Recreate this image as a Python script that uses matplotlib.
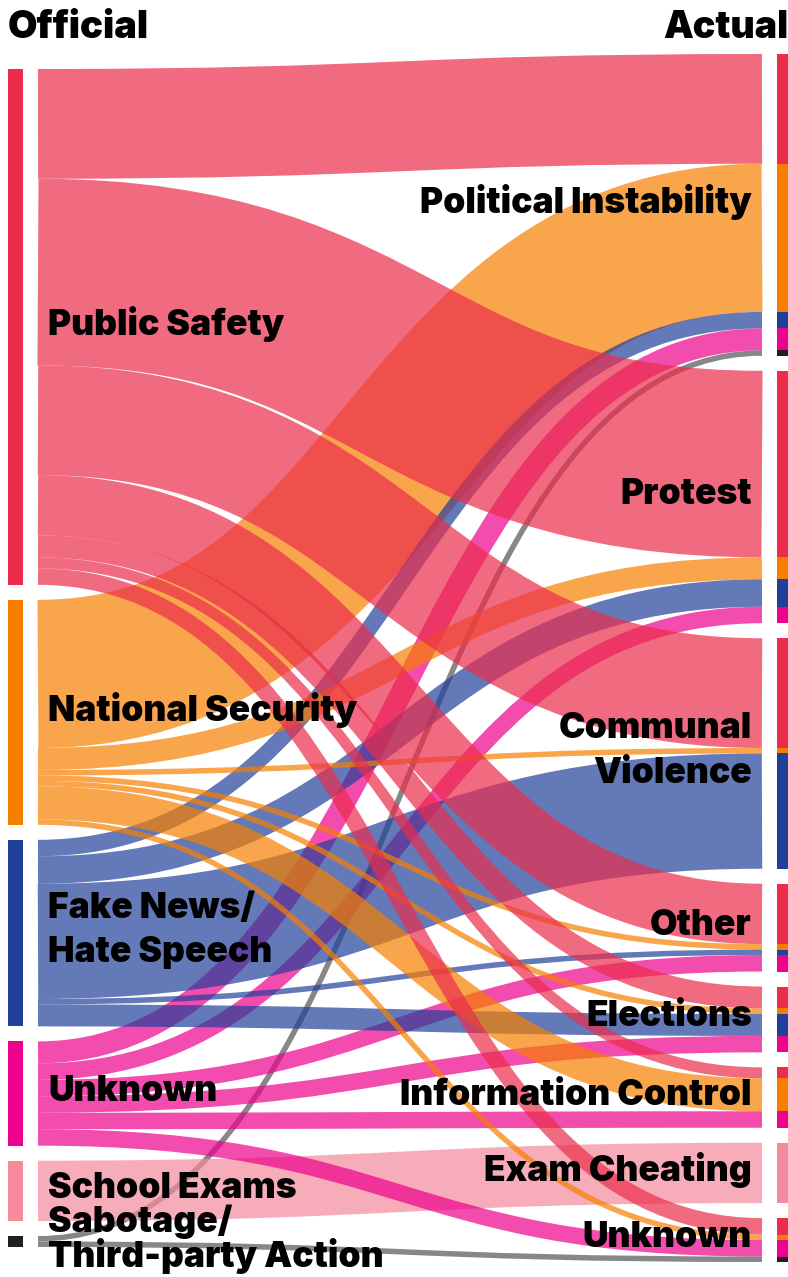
import matplotlib
matplotlib.use("Agg")
import matplotlib.pyplot as plt
from matplotlib import font_manager
from matplotlib.path import Path
from matplotlib.patches import PathPatch, Rectangle

# official reason (left) -> actual reason (right), counts of shutdowns
sources = ["Public Safety", "National Security", "Fake News/\nHate Speech",
           "Unknown", "School Exams", "Sabotage/\nThird-party Action"]
targets = ["Political Instability", "Protest", "Communal\nViolence", "Other",
           "Elections", "Information Control", "Exam Cheating", "Unknown"]

source_colors = ["#EC2C4B", "#F77F00", "#21409A", "#EC008C", "#F58B9C", "#231F20"]
link_colors = ["#EC2C4B", "#F77F00", "#21409A", "#EC008C", "#F58B9C", "#555555"]

link_source = [0, 0, 0, 0, 0, 0, 0,
               1, 1, 1, 1, 1, 1, 1,
               2, 2, 2, 2, 2,
               3, 3, 3, 3, 3, 3,
               4,
               5, 5]
link_target = [0, 1, 2, 3, 4, 5, 7,
               0, 1, 2, 3, 4, 5, 7,
               0, 1, 2, 3, 4,
               0, 1, 3, 4, 5, 7,
               6,
               0, 7]
link_value = [20, 34, 20, 11, 4, 2, 3,
              27, 4, 1, 1, 1, 6, 1,
              3, 5, 21, 1, 4,
              4, 3, 3, 3, 3, 3,
              11,
              1, 1]

W, H, DPI = 788, 1277, 100
top, bottom, pad = 54, 1262, 15
x_left_node, x_right_node, node_w = 8, 777, 15
x0, x1 = 38, 762


def heavy_font():
    """가장 두꺼운 글꼴 굵기를 고른다"""
    for fam in ["Inter", "Roboto", "Lato", "Open Sans"]:
        ws = [f.weight for f in font_manager.fontManager.ttflist if f.name == fam]
        ws = [w if isinstance(w, int) else 400 for w in ws]
        if ws and max(ws) >= 800:
            return fam, max(ws)
    return "Inter", 700


fam, weight = heavy_font()
font = [fam, "DejaVu Sans"]

total = sum(link_value)
unit = (bottom - top - (len(targets) - 1) * pad) / total

src_tot = [sum(v for s, v in zip(link_source, link_value) if s == i) for i in range(len(sources))]
tgt_tot = [sum(v for t, v in zip(link_target, link_value) if t == i) for i in range(len(targets))]

# node positions
tgt_y = []
y = top
for t in tgt_tot:
    tgt_y.append(y)
    y += t * unit + pad
left_h = total * unit + (len(sources) - 1) * pad
src_y = []
y = top + (bottom - top - left_h) / 2
for s in src_tot:
    src_y.append(y)
    y += s * unit + pad

# link offsets: at source sorted by target, at target sorted by source
n = len(link_value)
ys = [0] * n
yt = [0] * n
for i in range(len(sources)):
    off = src_y[i]
    for k in sorted([k for k in range(n) if link_source[k] == i], key=lambda k: link_target[k]):
        w = link_value[k] * unit
        ys[k] = off + w / 2
        off += w
for j in range(len(targets)):
    off = tgt_y[j]
    for k in sorted([k for k in range(n) if link_target[k] == j], key=lambda k: link_source[k]):
        w = link_value[k] * unit
        yt[k] = off + w / 2
        off += w

fig = plt.figure(figsize=(W / DPI, H / DPI), dpi=DPI)
ax = fig.add_axes([0, 0, 1, 1])
ax.set_xlim(0, W)
ax.set_ylim(H, 0)
ax.axis("off")

xm = (x0 + x1) / 2
order = sorted(range(n), key=lambda k: (link_target[k], link_source[k]))
for k in order:
    path = Path([(x0, ys[k]), (xm, ys[k]), (xm, yt[k]), (x1, yt[k])],
                [Path.MOVETO, Path.CURVE4, Path.CURVE4, Path.CURVE4])
    ax.add_patch(PathPatch(path, fill=False, edgecolor=link_colors[link_source[k]],
                           alpha=0.7, lw=link_value[k] * unit * 72 / DPI, capstyle="butt"))

# left node bars
for i in range(len(sources)):
    ax.add_patch(Rectangle((x_left_node, src_y[i]), node_w, src_tot[i] * unit,
                           color=source_colors[i], lw=0))

# right node bars are split by source colour
for k in range(n):
    w = link_value[k] * unit
    ax.add_patch(Rectangle((x_right_node, yt[k] - w / 2), node_w, w,
                           color=source_colors[link_source[k]], lw=0))

fs = 25.5 if weight >= 800 else 26.5
lift = 2.5  # 글자 세로 위치 보정
spacing = {2: 1.44, 5: 0.98}
for i, name in enumerate(sources):
    c = src_y[i] + src_tot[i] * unit / 2 - lift
    ax.text(48, c, name, ha="left", va="center", fontsize=fs, fontweight=weight,
            family=font, linespacing=spacing.get(i, 1.2))
for j, name in enumerate(targets):
    c = tgt_y[j] + tgt_tot[j] * unit / 2 - lift
    ax.text(752, c, name, ha="right", va="center", fontsize=fs, fontweight=weight,
            family=font, multialignment="right", linespacing=1.46)

ax.text(8, 38, "Official", ha="left", va="baseline", fontsize=27.5, fontweight=weight, family=font)
ax.text(788, 38, "Actual", ha="right", va="baseline", fontsize=27, fontweight=weight, family=font)

fig.savefig("out.png", dpi=DPI)
